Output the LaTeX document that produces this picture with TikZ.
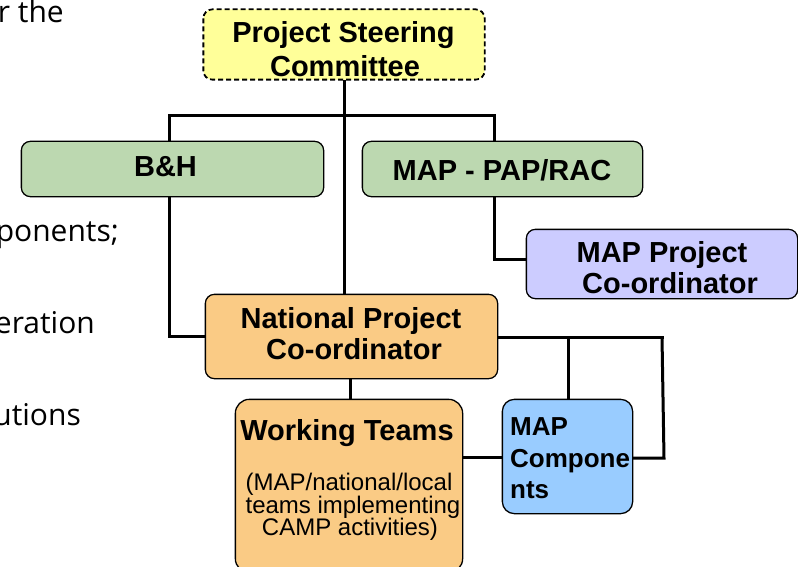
\documentclass[tikz,border=0pt]{standalone}
\usepackage{fontspec}
\setmainfont{Liberation Sans}
\newfontfamily\bgfont{Open Sans}
\definecolor{cyellow}{HTML}{FFFF99}
\definecolor{cgreen}{HTML}{BCD8B0}
\definecolor{clav}{HTML}{CCCCFF}
\definecolor{corange}{HTML}{FACB85}
\definecolor{cblue}{HTML}{99CCFF}
\tikzset{
  box/.style={draw=black, line width=1.3pt, rounded corners=9pt, inner sep=0pt},
  conn/.style={line width=3pt},
  tb/.style={font=\fontsize{29}{31}\selectfont\bfseries, inner sep=0pt, anchor=base},
  tm/.style={font=\fontsize{26}{31}\selectfont\bfseries, inner sep=0pt, anchor=base west},
  ts/.style={font=\fontsize{24}{23}\selectfont, inner sep=0pt, anchor=base},
  bgt/.style={font=\bgfont\fontsize{30}{36}\selectfont, inner sep=0pt, anchor=base east}
}
\begin{document}
\begin{tikzpicture}[x=1pt,y=-1pt]
\useasboundingbox (0,0) rectangle (798,567);
% background text fragments
\node[bgt] (bg1) at (64,23) {r the};
\node[bgt] (bg2) at (119,241) {ponents;};
\node[bgt] (bg3) at (95,333) {eration};
\node[bgt] (bg4) at (81,425) {utions};
% boxes
\node[box, draw=none, minimum width=280pt, minimum height=69pt] (psc) at (344,44.5) {};
\node[box, draw=none, minimum width=301pt, minimum height=54pt] (bh) at (172.5,169) {};
\node[box, draw=none, minimum width=279pt, minimum height=54pt] (map) at (502.5,169) {};
\node[box, draw=none, minimum width=270pt, minimum height=68pt] (mpc) at (662,264) {};
\node[box, draw=none, minimum width=291pt, minimum height=83pt] (npc) at (351.5,336.5) {};
\node[box, draw=none, minimum width=226pt, minimum height=172pt] (wt) at (349,486) {};
\node[box, draw=none, minimum width=129pt, minimum height=113pt] (mc) at (567.5,456.5) {};
% connector points
\coordinate (busL) at (169,116);
\coordinate (busR) at (494,116);
\coordinate (busM) at (psc.south |- busL);
\coordinate (mpcIn) at (494,259);
\coordinate (npcR) at (664,337);
\coordinate (mcTop) at (568,337);
\coordinate (mcR) at (664,458);
\coordinate (wtOut) at (462,457);
% connectors
\draw[conn] (psc.south) -- (psc.south |- npc.north);
\draw[conn] (busL |- bh.north) -- (busL) -- (busR) -- (busR |- map.north);
\draw[conn] (busL |- bh.south) |- (npc.west);
\draw[conn] (busR |- map.south) -- (mpcIn) -- (mpcIn -| mpc.west);
\draw[conn] (npc.east |- npcR) -- (npcR);
\draw[conn] (npcR -| mpc.south) -- (mcR) -- (mcR -| mc.east);
\draw[conn] (mcTop) -- (mcTop |- mc.north);
\draw[conn] (npc.south -| 350,0) -- (wt.north -| 350,0);
\draw[conn] (wtOut) -- (wtOut -| mc.west);
% box drawing
\draw[line width=1.8pt, dash pattern=on 5pt off 3pt, rounded corners=9pt, fill=cyellow] (psc.north west) rectangle (psc.south east);
\draw[line width=1.3pt, rounded corners=9pt, fill=cgreen] (bh.north west) rectangle (bh.south east);
\draw[line width=1.3pt, rounded corners=9pt, fill=cgreen] (map.north west) rectangle (map.south east);
\draw[line width=1.3pt, rounded corners=9pt, fill=clav] (mpc.north west) rectangle (mpc.south east);
\draw[line width=1.3pt, rounded corners=9pt, fill=corange] (npc.north west) rectangle (npc.south east);
\draw[line width=1.3pt, rounded corners=14pt, fill=corange] (wt.north west) rectangle (wt.south east);
\draw[line width=1.3pt, rounded corners=12pt, fill=cblue] (mc.north west) rectangle (mc.south east);
% texts
\node[tb] (psc1) at (343.5,43) {Project Steering};
\node[tb] (psc2) at (345,77) {Committee};
\node[tb] (bh1) at (165.5,177) {B\&H};
\node[tb] (map1) at (502,180) {MAP - PAP/RAC};
\node[tb] (mpc1) at (662,262) {MAP Project};
\node[tb] (mpc2) at (670,293) {Co-ordinator};
\node[tb] (npc1) at (351,328) {National Project};
\node[tb] (npc2) at (354,359) {Co-ordinator};
\node[tb] (wt1) at (347,440) {Working Teams};
\node[ts] (wt2) at (349,490) {(MAP/national/local};
\node[ts] (wt3) at (353,513) {teams implementing};
\node[ts] (wt4) at (350,535) {CAMP activities)};
\node[tm] (mc1) at (510,435) {MAP};
\node[tm] (mc2) at (510,467) {Compone};
\node[tm] (mc3) at (510,498) {nts};
\end{tikzpicture}
\end{document}
